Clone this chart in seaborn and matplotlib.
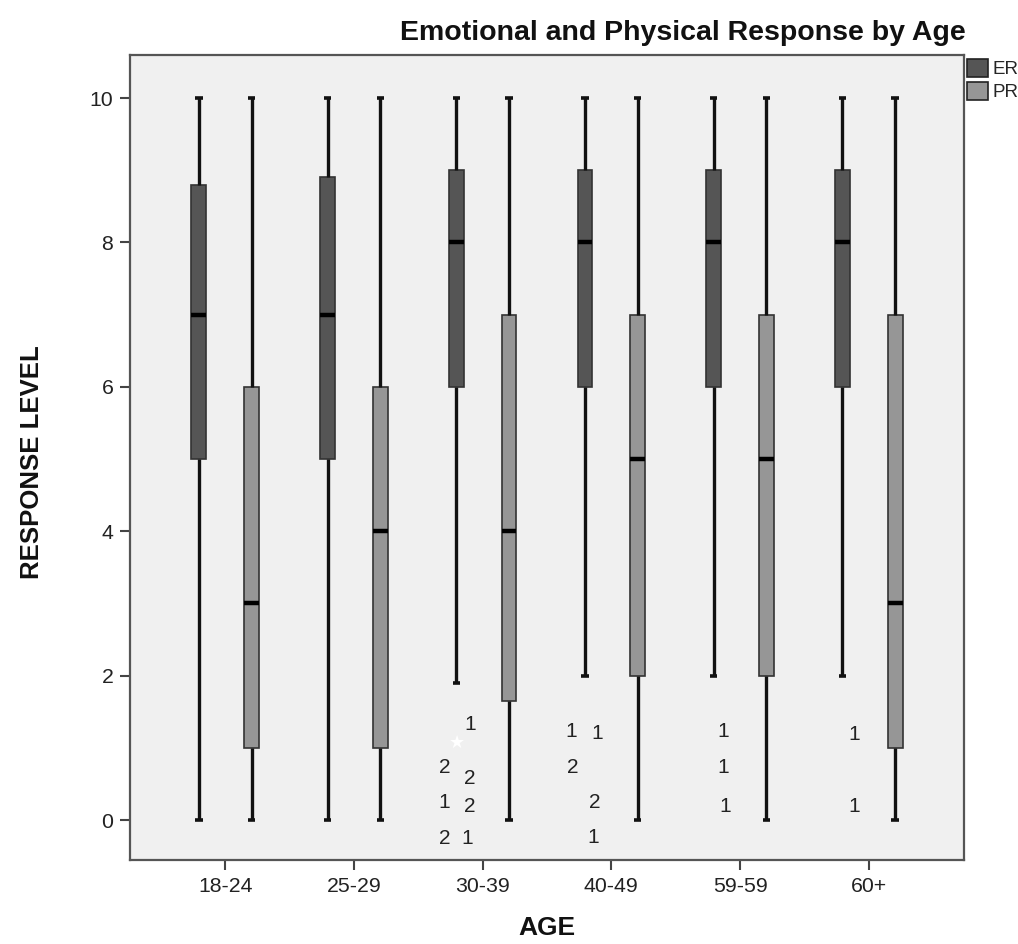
import numpy as np
import pandas as pd
import matplotlib
matplotlib.use("Agg")
import matplotlib.pyplot as plt
from matplotlib.patches import Patch
import seaborn as sns

sns.set_theme(style="white")
plt.rcParams['font.family'] = ['Liberation Sans', 'DejaVu Sans']

# ---- data ----
ages = ["18-24", "25-29", "30-39", "40-49", "59-59", "60+"]
series = ["ER", "PR"]

# five-number summaries: lower whisker, Q1, median, Q3, upper whisker
er_low = [0, 0, 1.9, 2, 2, 2]
er_q1 = [5, 5, 6, 6, 6, 6]
er_med = [7, 7, 8, 8, 8, 8]
er_q3 = [8.8, 8.9, 9, 9, 9, 9]
er_high = [10, 10, 10, 10, 10, 10]

pr_low = [0, 0, 0, 0, 0, 0]
pr_q1 = [1, 1, 1.65, 2, 2, 1]
pr_med = [3, 4, 4, 5, 5, 3]
pr_q3 = [6, 6, 7, 7, 7, 7]
pr_high = [10, 10, 10, 10, 10, 10]

# outlier case labels (age group, horizontal offset, response level, label)
out_group = ["30-39", "30-39", "30-39", "30-39", "30-39", "30-39", "30-39",
             "40-49", "40-49", "40-49", "40-49", "40-49",
             "59-59", "59-59", "59-59",
             "60+", "60+"]
out_dx = [-0.10, -0.295, -0.10, -0.295, -0.10, -0.295, -0.124,
          -0.31, -0.11, -0.30, -0.13, -0.14,
          -0.13, -0.13, -0.115,
          -0.11, -0.11]
out_y = [1.32, 0.73, 0.58, 0.24, 0.19, -0.25, -0.25,
         1.22, 1.20, 0.73, 0.24, -0.24,
         1.22, 0.73, 0.19,
         1.19, 0.19]
out_label = ["1", "2", "2", "1", "2", "2", "1",
             "1", "1", "2", "2", "1",
             "1", "1", "1",
             "1", "1"]
# extreme-value star
star_group = "30-39"
star_dx = -0.20
star_y = 1.07

# ---- build long-form table (5 values reproduce the quartiles exactly) ----
rows = []
for i, a in enumerate(ages):
    for v in (er_low[i], er_q1[i], er_med[i], er_q3[i], er_high[i]):
        rows.append({"AGE": a, "grp": "ER", "val": v})
    for v in (pr_low[i], pr_q1[i], pr_med[i], pr_q3[i], pr_high[i]):
        rows.append({"AGE": a, "grp": "PR", "val": v})
df = pd.DataFrame(rows)

fig = plt.figure(figsize=(10.18, 9.44), dpi=100)
ax = fig.add_axes([130 / 1018, 1 - 860 / 944, (964 - 130) / 1018, (860 - 55) / 944])
ax.set_facecolor("#F0F0F0")

palette = {"ER": "#555555", "PR": "#969696"}
sns.boxplot(data=df, x="AGE", y="val", hue="grp", order=ages, hue_order=series,
            palette=palette, saturation=1, width=0.82, gap=0.72, whis=(0, 100),
            fliersize=0, linecolor="#333333", linewidth=1.2,
            medianprops=dict(color="black", linewidth=3.2, solid_capstyle="butt"),
            whiskerprops=dict(color="#111111", linewidth=2.4, solid_capstyle="butt"),
            capprops=dict(color="#111111", linewidth=2.6, solid_capstyle="butt"),
            legend=False, ax=ax)

# outlier labels
for g, dx, y, lab in zip(out_group, out_dx, out_y, out_label):
    ax.text(ages.index(g) + dx, y, lab, ha="center", va="center",
            fontsize=15, color="#222222")
ax.text(ages.index(star_group) + star_dx, star_y, "★", ha="center", va="center",
        fontsize=13, color="white", family=["DejaVu Sans"])

ax.set_xlim(-0.74, 5.74)
ax.set_ylim(-0.554, 10.596)
ax.set_yticks([0, 2, 4, 6, 8, 10])
ax.set_yticklabels(["0", "2", "4", "6", "8", "10"])
ax.tick_params(axis="both", which="both", direction="out", length=7, width=1.5,
               color="#444444", labelsize=15.3, labelcolor="#222222", pad=5,
               left=True, bottom=True)
for s in ax.spines.values():
    s.set_color("#555555")
    s.set_linewidth(1.6)

ax.set_xlabel("")
ax.set_ylabel("")
fig.text(547 / 1018, 1 - 928 / 944, "AGE", ha="center", va="center",
         fontsize=19, fontweight="bold", color="#111111")
fig.text(32 / 1018, 1 - 462 / 944, "RESPONSE LEVEL", ha="center", va="center",
         rotation=90, fontsize=18.5, fontweight="bold", color="#111111")

fig.text(683 / 1018, 1 - 33 / 944, "Emotional and Physical Response by Age",
         ha="center", va="center", fontsize=20.5, fontweight="bold", color="#111111")

handles = [Patch(facecolor=palette[s], edgecolor="#222222", linewidth=1.2) for s in series]
fig.legend(handles, series, loc="upper left", bbox_to_anchor=(965 / 1018, 1 - 57 / 944),
           frameon=False, fontsize=13.5, handlelength=1.1, handleheight=1.1,
           handletextpad=0.25, labelspacing=0.2, borderpad=0.1, borderaxespad=0.0)

fig.savefig("out.png", dpi=100)
